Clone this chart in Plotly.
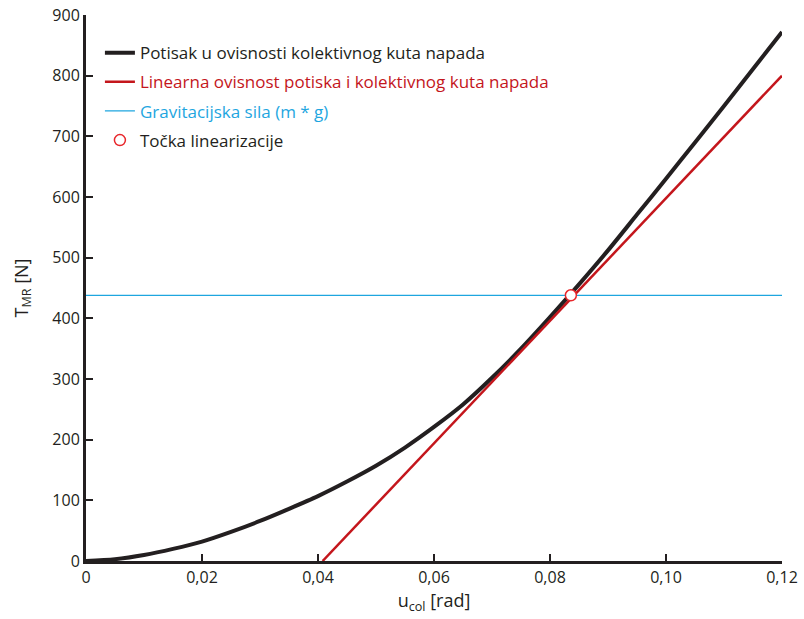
import plotly.graph_objects as go

# Thrust vs collective angle
u_col = [0, 0.005, 0.01, 0.015, 0.02, 0.025, 0.03, 0.035, 0.04, 0.045, 0.05, 0.055,
         0.06, 0.065, 0.07, 0.075, 0.08, 0.085, 0.09, 0.095, 0.1, 0.105, 0.11, 0.115, 0.12]
thrust = [0, 3, 10, 20, 32, 48, 66, 86, 107, 131, 157, 187,
          221, 258, 302, 350, 402, 456, 512, 571, 630, 690, 750, 811, 872]

# Linearized thrust
lin_u = [0.0408, 0.12]
lin_T = [0, 800]

# Gravity force
grav_u = [0, 0.12]
grav_T = [438, 438]

# Linearization point
pt_u = [0.0836]
pt_T = [438]

x_ticks = [0, 0.02, 0.04, 0.06, 0.08, 0.10, 0.12]
x_labels = ["0", "0,02", "0,04", "0,06", "0,08", "0,10", "0,12"]
y_ticks = [0, 100, 200, 300, 400, 500, 600, 700, 800, 900]

BLACK = "#231f20"
RED = "#c4161c"
BLUE = "#1ea6df"
FONT = "Open Sans"

fig = go.Figure()
fig.add_trace(go.Scatter(x=u_col, y=thrust, mode="lines",
                         line=dict(color=BLACK, width=4, shape="spline", smoothing=0.8),
                         name="<span style='color:#231f20'>Potisak u ovisnosti kolektivnog kuta napada</span>",
                         legendgroup="a"))
fig.add_trace(go.Scatter(x=lin_u, y=lin_T, mode="lines", line=dict(color=RED, width=2.5),
                         name="<span style='color:#c4161c'>Linearna ovisnost potiska i kolektivnog kuta napada</span>",
                         legendgroup="b"))
fig.add_trace(go.Scatter(x=grav_u, y=grav_T, mode="lines", line=dict(color=BLUE, width=1.2),
                         name="<span style='color:#1ea6df'>Gravitacijska sila (m * g)</span>",
                         legendgroup="c"))
fig.add_trace(go.Scatter(x=pt_u, y=pt_T, mode="markers",
                         marker=dict(symbol="circle", size=11, color="white", line=dict(color="#e8262b", width=1.5)),
                         name="<span style='color:#231f20'>Točka linearizacije</span>",
                         legendgroup="d"))

fig.update_layout(
    width=804, height=619,
    margin=dict(l=85.5, r=21.5, t=15, b=58, autoexpand=False),
    paper_bgcolor="white", plot_bgcolor="white",
    font=dict(family=FONT, size=16, color=BLACK),
    showlegend=True,
    legend=dict(x=0.02, y=0.963, xanchor="left", yanchor="top", bgcolor="rgba(0,0,0,0)",
                font=dict(size=17), tracegroupgap=4, itemwidth=30),
    xaxis=dict(range=[0, 0.12], tickvals=x_ticks, ticktext=x_labels, ticks="inside", ticklen=7,
               tickwidth=2, tickcolor=BLACK, showline=True, linecolor=BLACK, linewidth=3,
               showgrid=False, zeroline=False, automargin=False,
               title=dict(text="u<sub>col</sub> [rad]", standoff=8, font=dict(size=18))),
    yaxis=dict(range=[0, 900], tickvals=y_ticks, ticks="inside", ticklen=7, tickwidth=2,
               tickcolor=BLACK, showline=True, linecolor=BLACK, linewidth=3,
               showgrid=False, zeroline=False, automargin=False,
               title=dict(text="T<sub>MR</sub> [N]", standoff=20, font=dict(size=18))),
)

fig.write_html("out.html", config={"displayModeBar": False},
               post_script="document.body.style.margin='0';")
